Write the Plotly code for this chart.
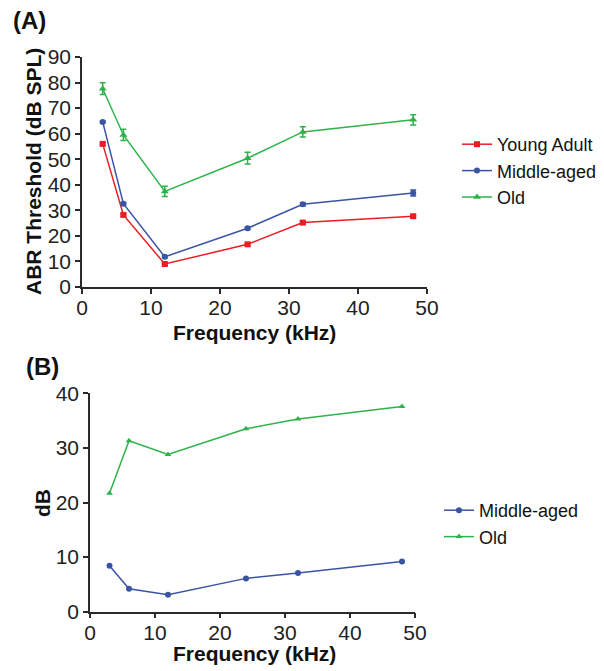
import plotly.graph_objects as go

freq = [3, 6, 12, 24, 32, 48]

young = [56, 28.2, 9, 16.7, 25.2, 27.7]
young_err = [0.5, 0.5, 0.5, 0.5, 0.5, 0.5]
middle = [64.6, 32.6, 11.8, 23, 32.4, 36.8]
middle_err = [0.4, 0.5, 0.5, 0.5, 0.6, 1.2]
old = [77.6, 59.5, 37.4, 50.4, 60.7, 65.4]
old_err = [2.3, 2.2, 2.0, 2.3, 2.0, 2.0]

diff_middle = [8.4, 4.2, 3.1, 6.1, 7.1, 9.2]
diff_old = [21.7, 31.3, 28.8, 33.5, 35.3, 37.6]

RED = "#ED1C24"
BLUE = "#3A54A4"
GREEN = "#2DB34A"
AX = "#2a2a2a"
FONT = "Liberation Sans, Arial, sans-serif"

# page body has an 8px margin; compensate
OFF = 8
W, H = 604 - OFF, 671 - OFF

def px(x):
    return (x - OFF) / W

def py(y):
    return 1 - (y - OFF) / H

fig = go.Figure()

def err(vals, color):
    return dict(type="data", array=vals, visible=True, color=color, thickness=1.5, width=3)

fig.add_trace(go.Scatter(x=freq, y=young, error_y=err(young_err, RED), mode="lines+markers",
                         name="Young Adult", line=dict(color=RED, width=1.5),
                         marker=dict(symbol="square", size=6, color=RED),
                         xaxis="x", yaxis="y", legend="legend"))
fig.add_trace(go.Scatter(x=freq, y=middle, error_y=err(middle_err, BLUE), mode="lines+markers",
                         name="Middle-aged", line=dict(color=BLUE, width=1.5),
                         marker=dict(symbol="circle", size=6, color=BLUE),
                         xaxis="x", yaxis="y", legend="legend"))
fig.add_trace(go.Scatter(x=freq, y=old, error_y=err(old_err, GREEN), mode="lines+markers",
                         name="Old", line=dict(color=GREEN, width=1.5),
                         marker=dict(symbol="triangle-up", size=7, color=GREEN),
                         xaxis="x", yaxis="y", legend="legend"))

fig.add_trace(go.Scatter(x=freq, y=diff_middle, mode="lines+markers",
                         name="Middle-aged", line=dict(color=BLUE, width=1.5),
                         marker=dict(symbol="circle", size=6, color=BLUE),
                         xaxis="x2", yaxis="y2", legend="legend2"))
fig.add_trace(go.Scatter(x=freq, y=diff_old, mode="lines+markers",
                         name="Old", line=dict(color=GREEN, width=1.5),
                         marker=dict(symbol="triangle-up", size=6, color=GREEN),
                         xaxis="x2", yaxis="y2", legend="legend2"))

axis_common = dict(showline=True, linecolor=AX, linewidth=1.5, ticks="outside", ticklen=5,
                   tickwidth=1.5, tickcolor=AX, showgrid=False, zeroline=False,
                   automargin=False,
                   tickfont=dict(family=FONT, size=21, color="#222"))

fig.update_layout(
    width=W, height=H,
    margin=dict(l=0, r=0, t=0, b=0, autoexpand=False),
    paper_bgcolor="white", plot_bgcolor="white",
    font=dict(family=FONT, color="#111"),
    xaxis=dict(domain=[px(82), px(427)], range=[0, 50], tickvals=[0, 10, 20, 30, 40, 50],
               anchor="y", ticklabelstandoff=-4, **axis_common),
    yaxis=dict(domain=[py(287), py(57)], range=[0, 90], tickvals=list(range(0, 91, 10)),
               anchor="x", **axis_common),
    xaxis2=dict(domain=[px(90), px(415)], range=[0, 50], tickvals=[0, 10, 20, 30, 40, 50],
                anchor="y2", ticklabelstandoff=-4, **axis_common),
    yaxis2=dict(domain=[py(611.7), py(393.3)], range=[0, 40], tickvals=[0, 10, 20, 30, 40],
                anchor="x2", **axis_common),
    legend=dict(x=px(457), xanchor="left", y=py(126), yanchor="top",
                font=dict(family=FONT, size=18, color="#111"), bgcolor="rgba(0,0,0,0)",
                tracegroupgap=0),
    legend2=dict(x=px(439), xanchor="left", y=py(492), yanchor="top",
                 font=dict(family=FONT, size=18, color="#111"), bgcolor="rgba(0,0,0,0)",
                 tracegroupgap=0),
    showlegend=True,
)

def ann(text, x, y, size=21, angle=0, bold=True, xanchor="center"):
    fig.add_annotation(text=f"<b>{text}</b>" if bold else text, x=px(x), y=py(y),
                       xref="paper", yref="paper", showarrow=False, textangle=angle,
                       xanchor=xanchor, yanchor="middle",
                       font=dict(family=FONT, size=size, color="#111"))

ann("(A)", 29, 20, size=24)
ann("(B)", 42, 366, size=24)
ann("ABR Threshold (dB SPL)", 33, 172, angle=-90)
ann("Frequency (kHz)", 254, 332)
ann("dB", 42, 503, angle=-90)
ann("Frequency (kHz)", 254, 653)

fig.write_html("out.html")
